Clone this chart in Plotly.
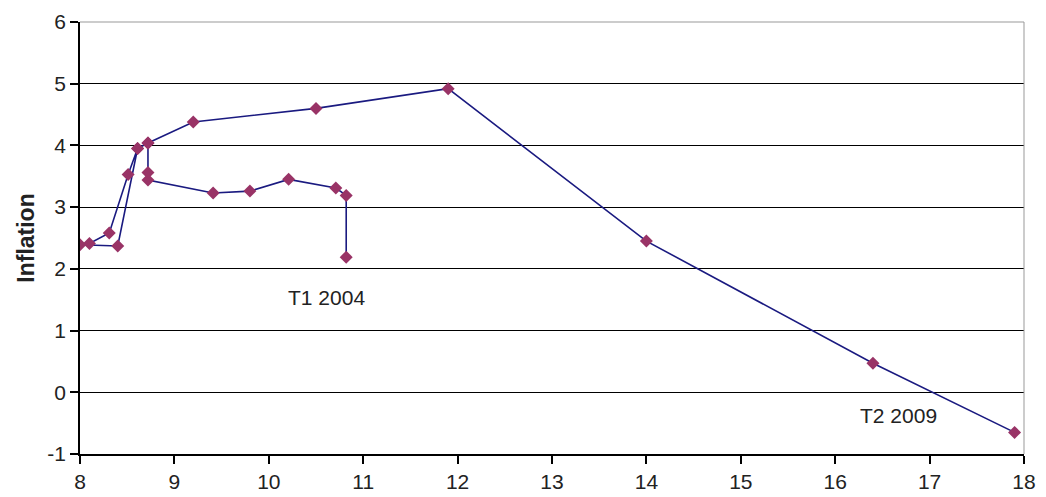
import plotly.graph_objects as go

unemployment = [10.82, 10.82, 10.71, 10.21, 9.80, 9.41, 8.72, 8.72, 8.72, 8.61, 8.51,
                8.31, 8.10, 8.00, 8.40, 8.61, 8.72, 9.20, 10.50, 11.90, 14.00, 16.40, 17.90]
inflation = [2.19, 3.19, 3.31, 3.45, 3.26, 3.23, 3.44, 3.56, 4.04, 3.95, 3.53,
             2.58, 2.41, 2.39, 2.37, 3.95, 4.04, 4.38, 4.60, 4.92, 2.45, 0.47, -0.65]

x_ticks = list(range(8, 19))
x_ticktext = [str(v) for v in x_ticks]
y_ticks = list(range(-1, 7))
y_ticktext = [str(v) for v in y_ticks]

labels = ["T1 2004", "T2 2009"]
label_x = [10.61, 16.67]
label_y = [1.54, -0.37]

tick_font = dict(family="Liberation Sans, Arial", size=21, color="#222222")

fig = go.Figure()
fig.add_trace(go.Scatter(
    x=unemployment, y=inflation, mode="lines+markers",
    line=dict(color="#1a1a80", width=1.6),
    marker=dict(symbol="diamond", size=10, color="#993366"),
    showlegend=False, hoverinfo="x+y",
))

for t, xx, yy in zip(labels, label_x, label_y):
    fig.add_annotation(x=xx, y=yy, text=t, showarrow=False,
                       font=dict(family="Liberation Sans, Arial", size=21, color="#222222"))

fig.update_layout(
    width=1046, height=497,
    margin=dict(l=80, r=22, t=22, b=43),
    paper_bgcolor="white", plot_bgcolor="white",
    font=dict(family="Liberation Sans, Arial", size=16, color="#222222"),
)
fig.update_xaxes(range=[8, 18], tickvals=x_ticks, ticktext=x_ticktext, showgrid=False,
                 showline=True, linecolor="black", linewidth=1.5,
                 ticks="outside", ticklen=8, tickcolor="black", tickwidth=1.5,
                 tickfont=tick_font, automargin=False,
                 mirror=False, zeroline=False)
fig.update_yaxes(range=[-1, 6], tickvals=y_ticks, ticktext=y_ticktext, showgrid=True,
                 gridcolor="black", gridwidth=1,
                 showline=True, linecolor="black", linewidth=1.5,
                 ticks="outside", ticklen=8, tickcolor="black", tickwidth=1.5,
                 tickfont=tick_font, automargin=False,
                 zeroline=False,
                 title=dict(text="<b>Inflation</b>",
                            font=dict(family="Liberation Sans, Arial", size=23),
                            standoff=6))
# top and right borders in grey
fig.add_shape(type="line", xref="paper", yref="paper", x0=0, x1=1, y0=1, y1=1,
              line=dict(color="#999999", width=1))
fig.add_shape(type="line", xref="paper", yref="paper", x0=1, x1=1, y0=0, y1=1,
              line=dict(color="#999999", width=1))

fig.write_html("out.html", config={"displayModeBar": False})

# remove the default page margin so the figure sits at the window's corner
with open("out.html", "r", encoding="utf-8") as f:
    html = f.read()
html = html.replace("<body>", '<body style="margin:0;padding:0;">', 1)
with open("out.html", "w", encoding="utf-8") as f:
    f.write(html)
